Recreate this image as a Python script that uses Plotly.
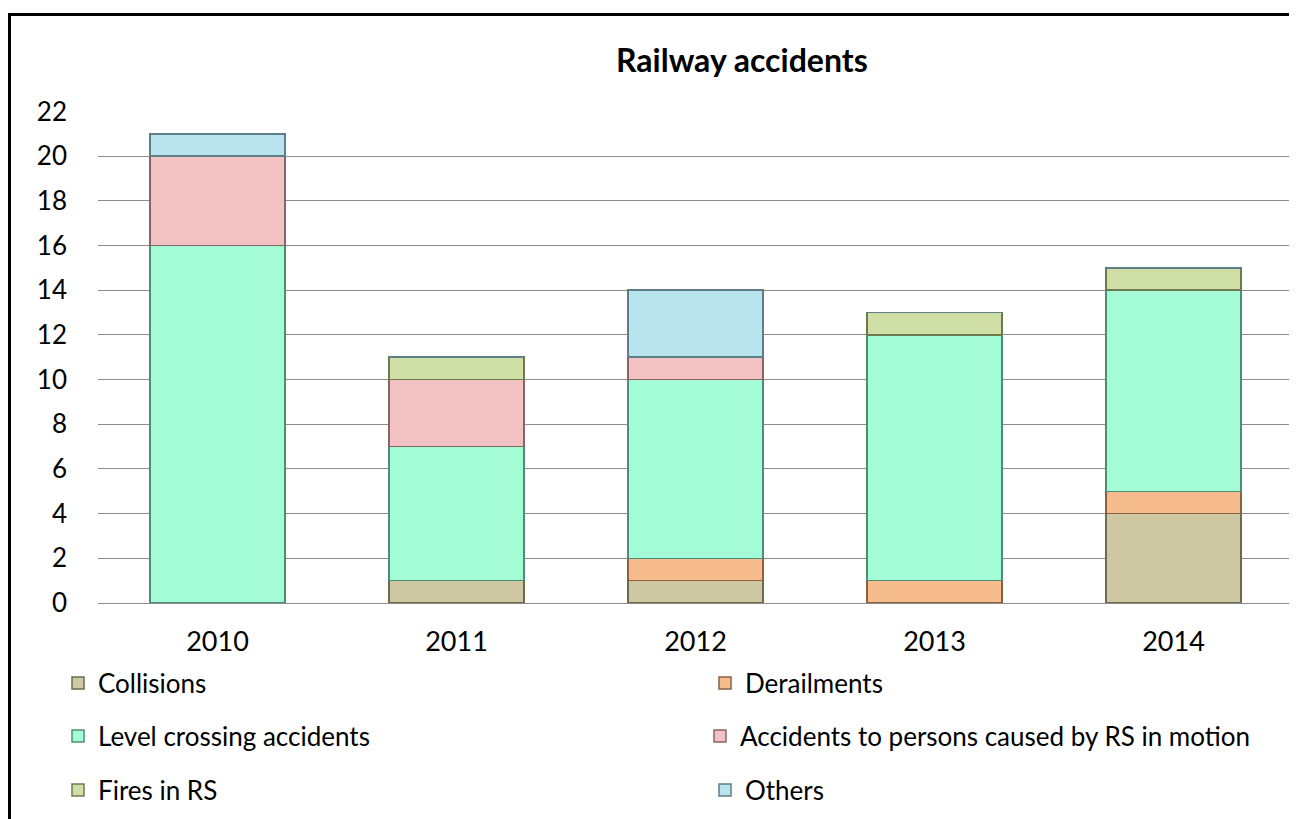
import plotly.graph_objects as go

years = ["2010", "2011", "2012", "2013", "2014"]
collisions = [0, 1, 1, 0, 4]
derailments = [0, 0, 1, 1, 1]
level_crossing = [16, 6, 8, 11, 9]
persons_rs = [4, 3, 1, 0, 0]
fires_rs = [0, 1, 0, 1, 1]
others = [1, 0, 3, 0, 0]

series_names = ["Collisions", "Derailments", "Level crossing accidents",
                "Accidents to persons caused by RS in motion", "Fires in RS", "Others"]
series_values = [collisions, derailments, level_crossing, persons_rs, fires_rs, others]
fill_colors = ["#CEC9A2", "#F7BC8E", "#A3FCD6", "#F2C2C2", "#CFDFA6", "#B9E4EE"]
edge_colors = ["#6E6A4E", "#8A6040", "#4C8E74", "#8A6464", "#6E7A4E", "#5E7E88"]

FONT = "Lato"
W, H = 1297, 819
OFF = 8  # page body margin offset in the browser
L, R, T, B = 90, 12, 103, 224
pw = W - L - R
ph = H - T - B

def fx(sx):
    return (sx - OFF - L) / pw

def fy(sy):
    return 1 - (sy - OFF - T) / ph

# legend slot (screen px): left x, centre y
legend_slots = [(58, 683), (705, 683), (58, 736), (700, 736), (58, 790), (705, 790)]
legend_ids = ["legend", "legend2", "legend3", "legend4", "legend5", "legend6"]

fig = go.Figure()
for name, vals, col, edge, lg in zip(series_names, series_values, fill_colors, edge_colors, legend_ids):
    fig.add_trace(go.Bar(
        x=years, y=vals, name=name, legend=lg,
        marker=dict(color=col, line=dict(color=edge, width=1.5)),
    ))

legend_layout = {}
for lg, (sx, sy) in zip(legend_ids, legend_slots):
    legend_layout[lg] = dict(
        x=fx(sx), y=fy(sy), xanchor="left", yanchor="middle",
        font=dict(family=FONT, size=26, color="#000000"),
        bgcolor="rgba(0,0,0,0)", itemclick=False, itemdoubleclick=False,
    )

fig.update_layout(
    width=W, height=H,
    margin=dict(l=L, r=R, t=T, b=B, autoexpand=False),
    barmode="stack", bargap=0.436,
    plot_bgcolor="white", paper_bgcolor="white",
    font=dict(family=FONT, size=26, color="#000000"),
    showlegend=True,
    xaxis=dict(showgrid=False, showline=False, ticks="", ticklabelstandoff=20,
               tickfont=dict(family=FONT, size=27)),
    yaxis=dict(range=[0, 22.02], dtick=2, showgrid=True, gridcolor="#8C8C8C", gridwidth=1,
               zeroline=True, zerolinecolor="#8C8C8C", zerolinewidth=1,
               showline=False, ticks="", ticklabelstandoff=30,
               tickfont=dict(family=FONT, size=26)),
    annotations=[dict(
        text="<b>Railway accidents</b>", xref="paper", yref="paper",
        x=fx(742), y=fy(60), xanchor="center", yanchor="middle",
        showarrow=False, font=dict(family=FONT, size=32, color="#000000"),
    )],
    shapes=[
        dict(type="line", xref="paper", yref="paper",
             x0=fx(8), x1=fx(1310), y0=fy(14.5), y1=fy(14.5),
             line=dict(color="#000000", width=3), layer="below"),
        dict(type="line", xref="paper", yref="paper",
             x0=fx(9.5), x1=fx(9.5), y0=fy(13), y1=fy(850),
             line=dict(color="#000000", width=3), layer="below"),
    ],
    **legend_layout,
)

fig.write_html("out.html")
